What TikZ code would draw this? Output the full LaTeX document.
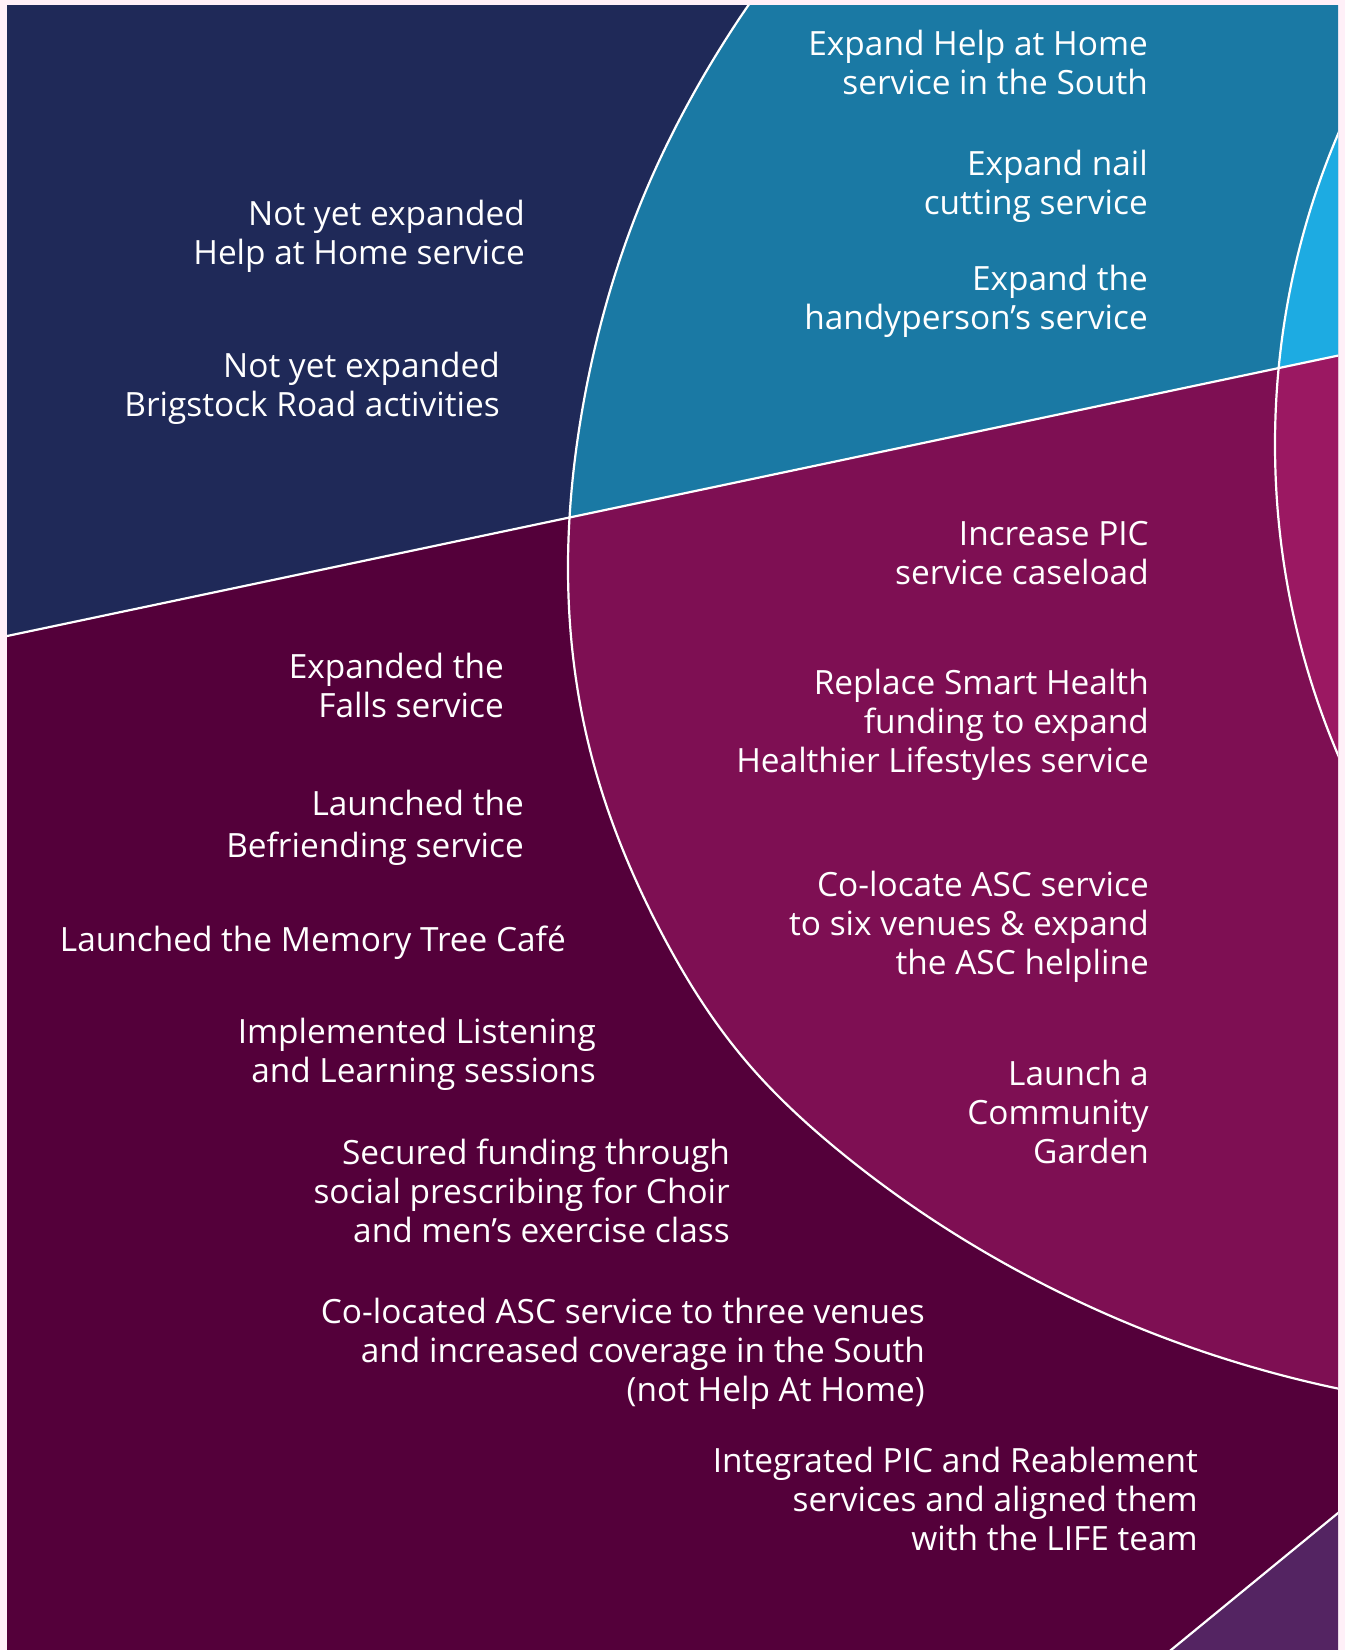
\documentclass[tikz,border=0pt]{standalone}
\usepackage{fontspec}
\usetikzlibrary{hobby}
\setmainfont{Open Sans}
\definecolor{pagebg}{HTML}{FFF0F8}
\definecolor{navy}{HTML}{1F2958}
\definecolor{teal}{HTML}{1A79A4}
\definecolor{skyblue}{HTML}{1DABE2}
\definecolor{plum}{HTML}{7E0F53}
\definecolor{berry}{HTML}{9B1862}
\definecolor{maroon}{HTML}{54003A}
\definecolor{violet}{HTML}{542462}
\newcommand{\rlines}[1]{\begin{tabular}[t]{@{}r@{}}#1\end{tabular}}
\begin{document}
\begin{tikzpicture}[x=1pt,y=-1pt,
  lbl/.style={anchor=base east, inner sep=0pt, text=white,
    font=\fontsize{33.4}{39}\selectfont},
  sep/.style={white, line width=2.2pt},
  bigcurve/.style={insert path={(752,0) to[curve through={(690,100) (642,200)
    (584,400) (568,570) (590,750) (660,930) (745,1060) (838,1150) (995,1258)}]
    (1360,1393)}},
  upper/.style={insert path={(-20,641.7) -- (1365,349.9) -- (1365,-20) -- (-20,-20) -- cycle}},
  lower/.style={insert path={(-20,641.7) -- (1365,349.9) -- (1365,1700) -- (-20,1700) -- cycle}}]
\fill[pagebg] (0,0) rectangle (1345,1650);
\useasboundingbox (0,0) rectangle (1345,1650);
\begin{scope}
  \clip (7,5) rectangle (1338,1650);
  \fill[maroon] (7,5) rectangle (1338,1650);
  % upper half: navy, teal lens, sky-blue circle
  \begin{scope}
    \clip[upper];
    \fill[navy] (7,5) rectangle (1338,700);
    \fill[teal] [bigcurve] -- (1380,1393) -- (1380,-20) -- (752,-20) -- cycle;
    \fill[skyblue] (2068.5,444.5) circle[radius=793.5pt];
  \end{scope}
  % lower half: plum lens, berry circle
  \begin{scope}
    \clip[lower];
    \fill[plum] [bigcurve] -- (1380,1393) -- (1380,-20) -- (752,-20) -- cycle;
    \fill[berry] (2068.5,444.5) circle[radius=793.5pt];
  \end{scope}
  % bottom-right corner wedge
  \fill[violet] (1160,1659) -- (1360,1495) -- (1360,1660) -- cycle;
  % white dividing lines
  \draw[sep] (-20,641.7) -- (1365,349.9);
  \draw[sep] [bigcurve];
  \draw[sep] (2068.5,444.5) circle[radius=793.5pt];
  \draw[sep] (1160,1659) -- (1360,1495);
\end{scope}
% labels
\node[lbl] (hah) at (1148,55) {\rlines{Expand Help at Home\\service in the South}};
\node[lbl] (nail) at (1148,175) {\rlines{Expand nail\\cutting service}};
\node[lbl] (handy) at (1148,290) {\rlines{Expand the\\handyperson’s service}};
\node[lbl] (nyhah) at (525,225) {\rlines{Not yet expanded\\Help at Home service}};
\node[lbl] (nybr) at (500,377) {\rlines{Not yet expanded\\Brigstock Road activities}};
\node[lbl] (pic) at (1149,545) {\rlines{Increase PIC\\service caseload}};
\node[lbl] (smart) at (1149,694) {\rlines{Replace Smart Health\\funding to expand\\Healthier Lifestyles service}};
\node[lbl] (asc) at (1149,896) {\rlines{Co-locate ASC service\\to six venues \& expand\\the ASC helpline}};
\node[lbl] (garden) at (1149,1085) {\rlines{Launch a\\Community\\Garden}};
\node[lbl] (falls) at (504,678) {\rlines{Expanded the\\Falls service}};
\node[lbl] (befr) at (524,815) {\rlines{Launched the\\[3pt]Befriending service}};
\node[lbl] (cafe) at (566,951) {Launched the Memory Tree Café};
\node[lbl] (listen) at (596,1043) {\rlines{Implemented Listening\\and Learning sessions}};
\node[lbl] (choir) at (730,1164) {\rlines{Secured funding through\\social prescribing for Choir\\and men’s exercise class}};
\node[lbl] (asc3) at (925,1323) {\rlines{Co-located ASC service to three venues\\and increased coverage in the South\\(not Help At Home)}};
\node[lbl] (life) at (1198,1472) {\rlines{Integrated PIC and Reablement\\services and aligned them\\with the LIFE team}};
\end{tikzpicture}
\end{document}
